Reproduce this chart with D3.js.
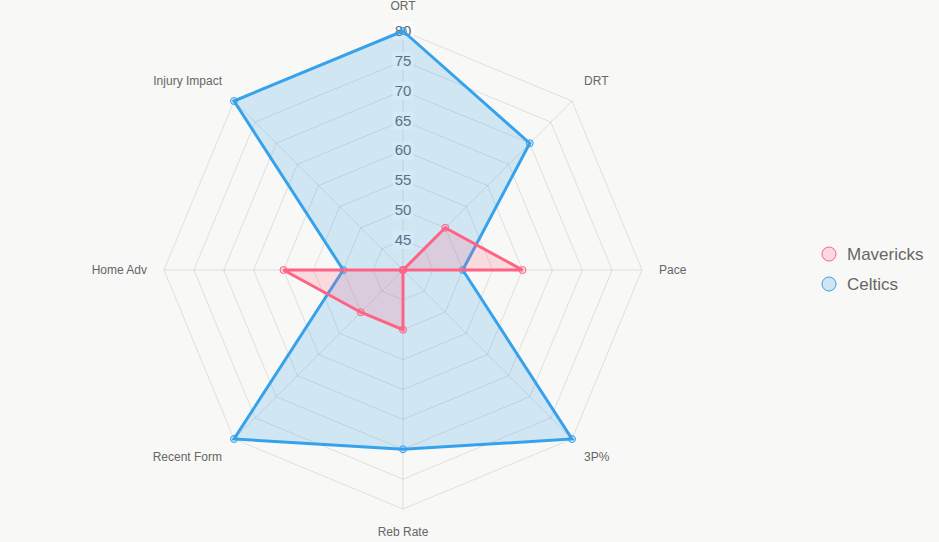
<!DOCTYPE html>
<html>
<head>
<meta charset="utf-8">
<script src="https://cdn.jsdelivr.net/npm/d3@7"></script>
<style>
  html, body { margin: 0; padding: 0; background: #f8f8f6; }
  svg { display: block; font-family: "Liberation Sans", Arial, Helvetica, sans-serif; }
</style>
</head>
<body>
<svg id="chart" width="939" height="542"></svg>
<script>
const axes = ["ORT", "DRT", "Pace", "3P%", "Reb Rate", "Recent Form", "Home Adv", "Injury Impact"];
const ticks = [45, 50, 55, 60, 65, 70, 75, 80];
const mavericks = [40, 50, 60, 40, 50, 50, 60, 40];
const celtics = [80, 70, 50, 80, 70, 80, 50, 80];

const series = [
  { name: "Mavericks", values: mavericks, stroke: "rgb(255,99,132)", fill: "rgba(255,99,132,0.2)" },
  { name: "Celtics", values: celtics, stroke: "rgb(54,162,235)", fill: "rgba(54,162,235,0.2)" }
];

const cx = 403, cy = 270, R = 239;
const svg = d3.select("#chart");
const g = svg.append("g").attr("transform", `translate(${cx},${cy})`);

const r = d3.scaleLinear().domain([40, 80]).range([0, R]);
const angle = d3.scaleLinear().domain([0, axes.length]).range([0, 2 * Math.PI]);
const pt = (i, v) => {
  const a = angle(i);
  return [Math.sin(a) * r(v), -Math.cos(a) * r(v)];
};

// grid rings
ticks.forEach(t => {
  g.append("polygon")
    .attr("points", axes.map((_, i) => pt(i, t).join(",")).join(" "))
    .attr("fill", "none")
    .attr("stroke", "rgba(0,0,0,0.1)")
    .attr("stroke-width", 1);
});

// angle lines
axes.forEach((_, i) => {
  const [x, y] = pt(i, 80);
  g.append("line")
    .attr("x1", 0).attr("y1", 0).attr("x2", x).attr("y2", y)
    .attr("stroke", "rgba(0,0,0,0.1)");
});

// point labels
axes.forEach((name, i) => {
  const a = angle(i);
  const lr = R + 17;
  const x = Math.sin(a) * lr, y = -Math.cos(a) * lr;
  const sx = Math.abs(x) < 1 ? 0 : Math.sign(x);
  const sy = Math.abs(y) < 1 ? 0 : Math.sign(y);
  g.append("text")
    .attr("x", x).attr("y", y)
    .attr("text-anchor", sx === 0 ? "middle" : sx > 0 ? "start" : "end")
    .attr("dy", sy === 0 ? "0.35em" : sy < 0 ? "-0.3em" : "0.85em")
    .attr("fill", "#666")
    .attr("font-size", 12)
    .text(name);
});

// tick labels with backdrop
ticks.forEach(t => {
  const y = -r(t);
  const lbl = g.append("g");
  const txt = lbl.append("text")
    .attr("x", 0).attr("y", y)
    .attr("dy", "0.33em")
    .attr("text-anchor", "middle")
    .attr("fill", "#666")
    .attr("font-size", 15)
    .text(t);
  const w = txt.node().getComputedTextLength();
  lbl.insert("rect", "text")
    .attr("x", -w / 2 - 2).attr("y", y - 9)
    .attr("width", w + 4).attr("height", 18)
    .attr("fill", "rgba(255,255,255,0.75)");
});

// datasets (last one drawn first, so the first sits on top)
const line = d3.line().curve(d3.curveLinearClosed);
series.slice().reverse().forEach(s => {
  const pts = s.values.map((v, i) => pt(i, v));
  g.append("path")
    .attr("d", line(pts))
    .attr("fill", s.fill)
    .attr("stroke", s.stroke)
    .attr("stroke-width", 3)
    .attr("stroke-linejoin", "miter");
  g.selectAll(null).data(pts).enter().append("circle")
    .attr("cx", d => d[0]).attr("cy", d => d[1])
    .attr("r", 3.5)
    .attr("fill", s.fill)
    .attr("stroke", s.stroke)
    .attr("stroke-width", 1);
});

// legend
const legend = svg.append("g").attr("transform", "translate(829,254)");
series.forEach((s, i) => {
  const item = legend.append("g").attr("transform", `translate(0,${i * 30})`);
  item.append("circle")
    .attr("r", 7)
    .attr("fill", s.fill)
    .attr("stroke", s.stroke)
    .attr("stroke-width", 1);
  item.append("text")
    .attr("x", 18).attr("dy", "0.35em")
    .attr("fill", "#666")
    .attr("font-size", 17)
    .text(s.name);
});
</script>
</body>
</html>
